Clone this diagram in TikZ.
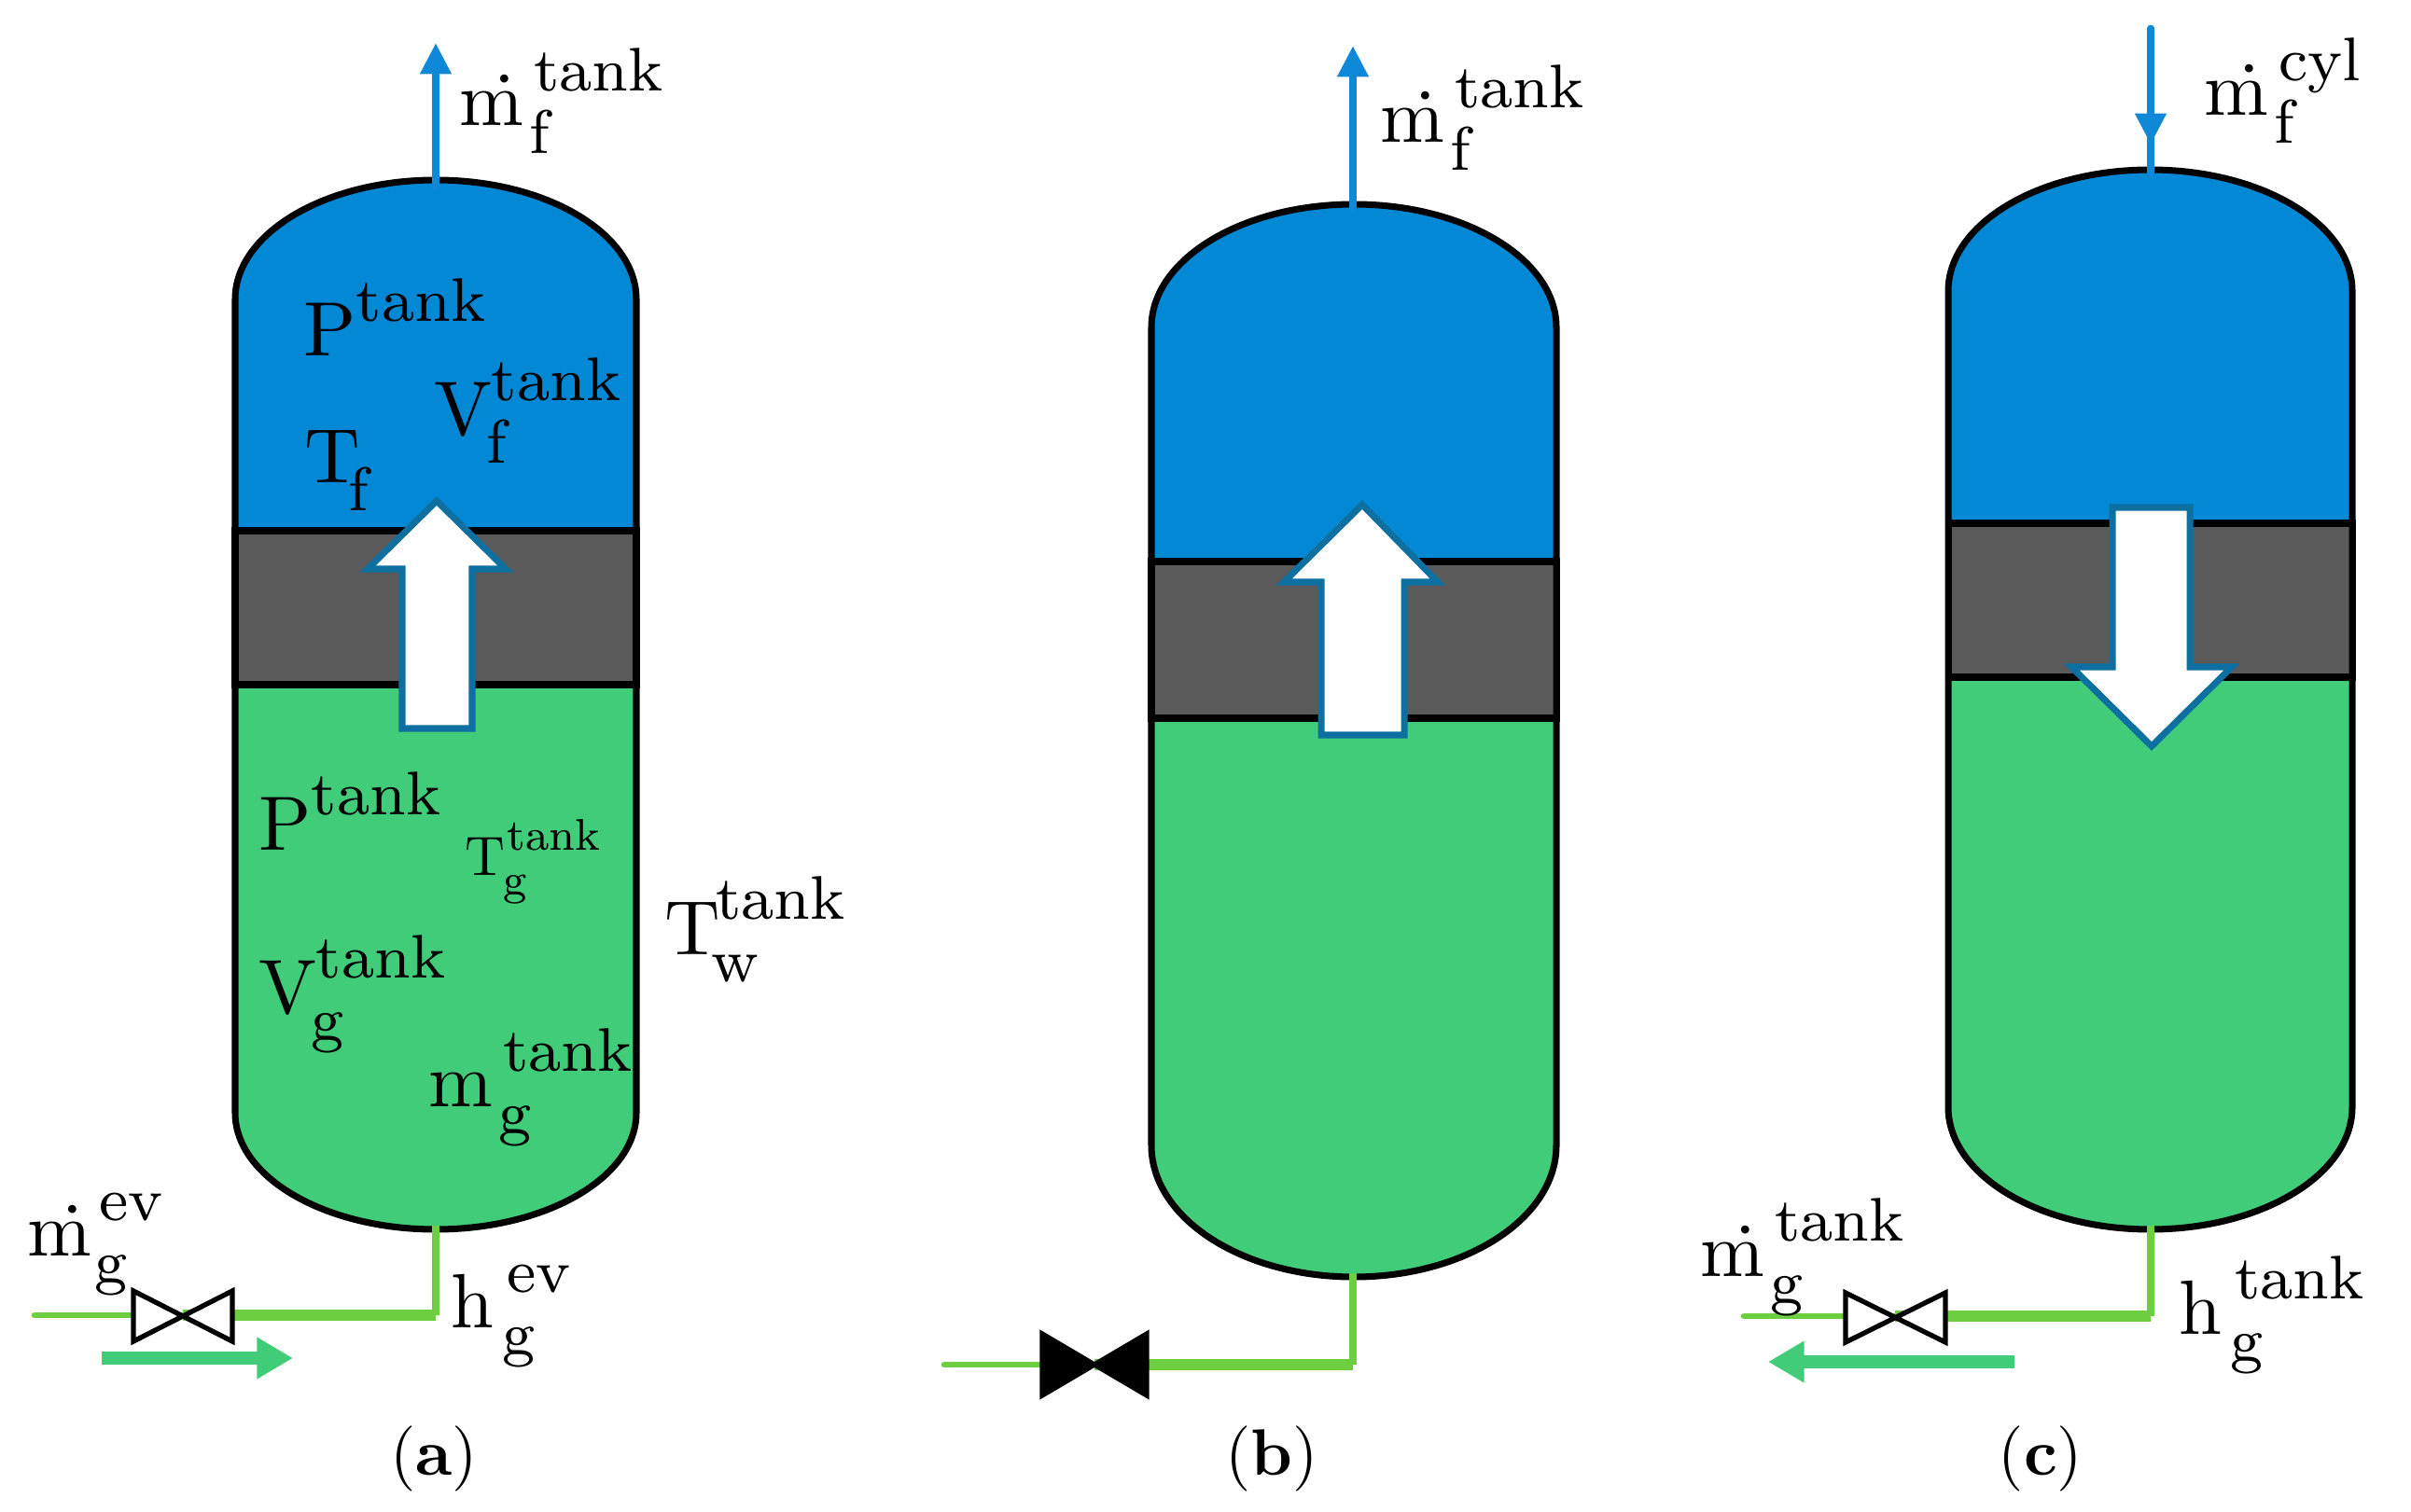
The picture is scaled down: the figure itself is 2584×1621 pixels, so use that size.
\documentclass[tikz,border=0pt]{standalone}
\usepackage{tikz}
\usetikzlibrary{arrows.meta}
\definecolor{tankblue}{HTML}{0288D4}
\definecolor{tankgreen}{HTML}{40CC78}
\definecolor{pistongray}{HTML}{5A5A5A}
\definecolor{outlineblue}{HTML}{0E70A0}
\definecolor{pipegreen}{HTML}{6CCF3F}
\definecolor{stemblue}{HTML}{1088D8}
\tikzstyle{lbl}=[anchor=base west,inner sep=0pt,scale=4.7]
\tikzstyle{caption}=[anchor=base,inner sep=0pt,scale=4.0]
\tikzstyle{wall}=[draw=black,line width=4pt]
\tikzstyle{bigarrow}=[draw=outlineblue,fill=white,line width=4pt]
\tikzstyle{stem}=[draw=stemblue,line width=4.8pt,line cap=round]
\tikzstyle{valve}=[draw=black,line width=3pt,line join=miter]
\tikzstyle{pipeup}=[draw=pipegreen,line width=4.5pt]
\tikzstyle{pipemid}=[draw=pipegreen,line width=6.5pt]
\tikzstyle{pipeend}=[draw=pipegreen,line width=3.8pt,line cap=round]
\tikzstyle{flow}=[draw=tankgreen,line width=8pt,-{Triangle[length=22pt,width=24pt]}]
\newcommand{\scr}{\fontsize{8}{10}\selectfont}
\newcommand{\sym}[4][.4pt]{#2\kern#1\rlap{\raisebox{-3.6pt}{\kern-.6pt\scr #3}}\raisebox{4.5pt}{\scr #4}}
\begin{document}
\begin{tikzpicture}[x=0.02cm,y=-0.02cm]
	\useasboundingbox (0,0) rectangle (2584,1621);

	% tank bodies
	\foreach \xl/\xr/\yt/\ysa/\yi/\yj/\ysb/\ybt in {252/682/193/321/569/734/1193/1318,1234/1668/219/351/602/770/1228/1369,2088/2521/182/312/561/726/1187/1318} {
		\fill[tankgreen] (\xl,\yj) -- (\xl,\ysb) arc[start angle=180,end angle=0,x radius={(\xr-\xl)/2},y radius={\ybt-\ysb}] -- (\xr,\yj) -- cycle;
		\fill[tankblue] (\xl,\yi) -- (\xl,\ysa) arc[start angle=180,end angle=360,x radius={(\xr-\xl)/2},y radius={\ysa-\yt}] -- (\xr,\yi) -- cycle;
		\path[wall,fill=pistongray] (\xl,\yi) rectangle (\xr,\yj);
		\path[wall] (\xl,\ysb) -- (\xl,\ysa) arc[start angle=180,end angle=360,x radius={(\xr-\xl)/2},y radius={\ysa-\yt}] -- (\xr,\ysb) arc[start angle=0,end angle=180,x radius={(\xr-\xl)/2},y radius={\ybt-\ysb}];
	}

	% piston arrows
	\path[bigarrow] (468,537) -- (542,610) -- (506,610) -- (506,781) -- (431,781) -- (431,610) -- (394,610) -- cycle;
	\path[bigarrow] (1460,541) -- (1541,624) -- (1505,624) -- (1505,788) -- (1416,788) -- (1416,624) -- (1376,624) -- cycle;
	\path[bigarrow] (2306,800) -- (2392,715) -- (2347,715) -- (2347,544) -- (2264,544) -- (2264,715) -- (2220,715) -- cycle;

	% fuel lines
	\coordinate (topa) at (467,200);
	\coordinate (outa) at (467,46);
	\coordinate (topb) at (1450,222);
	\coordinate (outb) at (1450,49);
	\coordinate (topc) at (2305,188);
	\coordinate (inc) at (2305,31);
	\coordinate (headc) at (2305,155);
	\draw[stem,-{Triangle[length=19pt,width=18pt]}] (topa) -- (outa);
	\draw[stem,-{Triangle[length=19pt,width=18pt]}] (topb) -- (outb);
	\draw[stem] (topc) -- (inc);
	\draw[stem,-{Triangle[length=19pt,width=18pt]}] (inc) -- (headc);

	% gas lines
	\coordinate (botA) at (467,1314);
	\coordinate (cornA) at (467,1410);
	\coordinate (endA) at (37,1410);
	\coordinate (botB) at (1450,1365);
	\coordinate (cornB) at (1450,1463);
	\coordinate (endB) at (1012,1463);
	\coordinate (botC) at (2305,1314);
	\coordinate (cornC) at (2305,1411);
	\coordinate (endC) at (1869,1411);
	\coordinate (valveA) at (196,1410);
	\coordinate (valveB) at (1173,1463);
	\coordinate (valveC) at (2031,1411);
	\foreach \v/\b/\c/\e in {valveA/botA/cornA/endA,valveB/botB/cornB/endB,valveC/botC/cornC/endC} {
		\draw[pipeend] (\e) -- (\v);
		\draw[pipemid] (\v) -- (\c);
		\draw[pipeup] (\b) -- (\c);
	}
	\path[valve,fill=white] (143,1384) -- (249,1438) -- (249,1384) -- (143,1438) -- cycle;
	\path[valve,fill=black] (1117,1430) -- (1229,1496) -- (1229,1430) -- (1117,1496) -- cycle;
	\path[valve,fill=white] (1978,1386) -- (2085,1439) -- (2085,1386) -- (1978,1439) -- cycle;
	\coordinate (flowAs) at (109,1456);
	\coordinate (flowAe) at (314,1456);
	\coordinate (flowCs) at (2159,1460);
	\coordinate (flowCe) at (1895,1460);
	\draw[flow] (flowAs) -- (flowAe);
	\draw[flow] (flowCs) -- (flowCe);

	% labels of (a)
	\node[lbl] (mfa) at (491,135) {\sym[1.3pt]{\.m}{f}{tank}};
	\node[lbl] (pf) at (324,382) {\sym[0pt]{P}{}{tank}};
	\node[lbl] (vf) at (464,467) {\sym[-.1pt]{V}{f}{tank}};
	\node[lbl] (tf) at (325,518) {\sym[-.9pt]{T}{f}{}};
	\node[lbl] (pg) at (276,911) {\sym[0pt]{P}{}{tank}};
	\node[lbl,scale=.72] (tg) at (497,938) {\sym{T}{g}{tank}};
	\node[lbl] (tw) at (711,1023) {\sym[-.6pt]{T}{w}{tank}};
	\node[lbl] (vg) at (276,1086) {\sym[-.1pt]{V}{g}{tank}};
	\node[lbl] (mg) at (458,1186) {\sym[1.3pt]{m}{g}{tank}};
	\node[lbl] (mga) at (28,1346) {\sym[1pt]{\.m}{g}{ev}};
	\node[lbl] (hga) at (482,1423) {\sym[1.7pt]{h}{g}{ev}};

	% labels of (b) and (c)
	\node[lbl] (mfb) at (1478,153) {\sym[1.3pt]{\.m}{f}{tank}};
	\node[lbl] (mfc) at (2361,124) {\sym[1.3pt]{\.m}{f}{cyl}};
	\node[lbl] (mgc) at (1821,1368) {\sym[1.3pt]{\.m}{g}{tank}};
	\node[lbl] (hgc) at (2334,1430) {\sym[1.7pt]{h}{g}{tank}};

	\node[caption] (capa) at (465,1581) {(\textbf{a})};
	\node[caption] (capb) at (1363,1581) {(\textbf{b})};
	\node[caption] (capc) at (2187,1581) {(\textbf{c})};
\end{tikzpicture}
\end{document}
